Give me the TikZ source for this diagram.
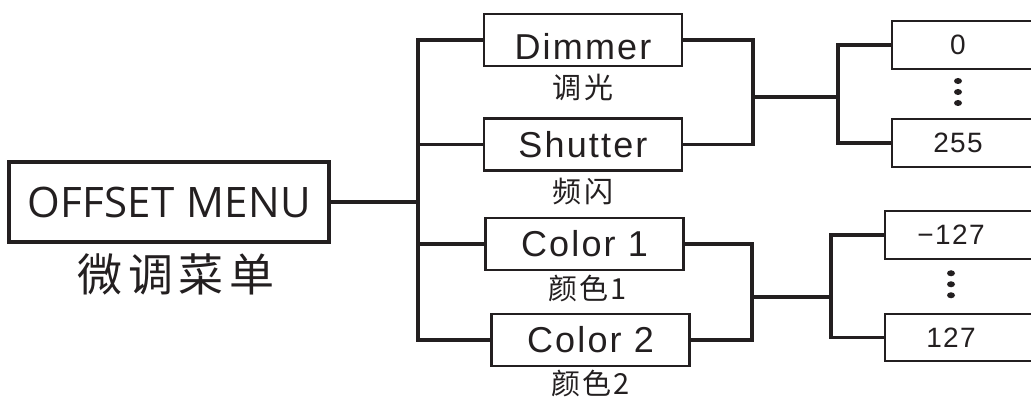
\documentclass[tikz,border=0pt]{standalone}
\usepackage{fontspec}
\setmainfont{Liberation Sans}
\newfontfamily\menufont{Open Sans}
\newfontfamily\cjk{Noto Sans CJK SC}
\usetikzlibrary{positioning,calc}
\definecolor{ink}{HTML}{231F20}

\begin{document}
\begin{tikzpicture}[x=1pt,y=-1pt,color=ink,line width=3.2pt,every node/.style={inner sep=0pt},itembox/.style={draw,line width=2.6pt,minimum width=198pt,minimum height=52pt,font=\fontsize{36}{40}\selectfont\addfontfeature{LetterSpace=6}},cnlabel/.style={font=\cjk\fontsize{29}{32}\selectfont\addfontfeature{LetterSpace=8}},valbox/.style={minimum width=128pt,minimum height=44pt,font=\fontsize{28}{30}\selectfont\addfontfeature{LetterSpace=5}}]
\useasboundingbox (0,0) rectangle (1031,398);
\clip (0,0) rectangle (1031,398);
% menu
\node[draw,minimum width=320pt,minimum height=80pt,font=\menufont\fontsize{42}{46}\selectfont\addfontfeature{LetterSpace=1}] (menu) at (169,202) {OFFSET MENU};
\node[below=8pt of menu,xshift=7pt,font=\cjk\fontsize{45}{48}\selectfont\addfontfeature{LetterSpace=12}] (menucn) {微调菜单};
% items
\node[itembox] (dim) at (583,40) {\raisebox{-6pt}[\height][0pt]{Dimmer}};
\node[cnlabel,below=5pt of dim] (dimcn) {调光};
\node[itembox] (shu) at (583,144.5) {Shutter};
\node[cnlabel,below=5pt of shu] (shucn) {频闪};
\node[itembox] (col1) at (584.5,244) {Color 1};
\node[cnlabel,below=2pt of col1,xshift=3pt] (col1cn) {颜色1};
\node[itembox] (col2) at (590.5,340) {Color 2};
\node[cnlabel,below=1pt of col2] (col2cn) {颜色2};
% values
\node[valbox] (v0) at (958,45) {0};
\node[valbox] (v255) at (958,143) {255};
\node[valbox] (vmin) at (951,235) {−127};
\node[valbox] (vmax) at (951,337.5) {127};
\foreach \v in {v0,v255,vmin,vmax}
  \draw[line width=2pt] ([xshift=40pt]\v.north east) -- (\v.north west) -- (\v.south west) -- ([xshift=40pt]\v.south east);
\foreach \a/\b in {v0/v255,vmin/vmax}
  \foreach \dy in {-11,0,11}
    \fill ($(\a.south)!0.5!(\b.north)+(0,\dy-2)$) ellipse (4 and 3);
% connectors
\coordinate (ja) at (418,202);
\draw (menu.east) -- (ja);
\draw (dim.west) -| (ja) |- (col2.west);
\draw (ja) |- (shu.west);
\draw (ja) |- (col1.west);
\coordinate (jb) at (753,97);
\coordinate (jc) at (838,97);
\draw (dim.east) -| (jb) |- (shu.east);
\draw (jb) -- (jc);
\draw (v0.west) -| (jc) |- (v255.west);
\coordinate (jd) at (752,297);
\coordinate (je) at (831,297);
\draw (col1.east) -| (jd) |- (col2.east);
\draw (jd) -- (je);
\draw (vmin.west) -| (je) |- (vmax.west);
\end{tikzpicture}
\end{document}
